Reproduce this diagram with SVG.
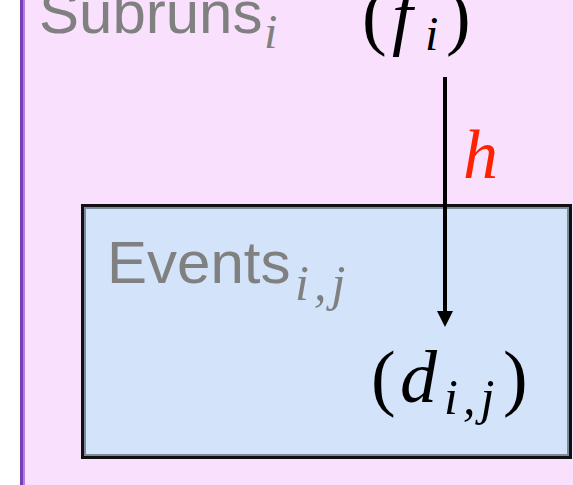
<svg xmlns="http://www.w3.org/2000/svg" width="573" height="485" viewBox="0 0 573 485">
<style>
.lbl{font-family:"Liberation Sans",Arial,sans-serif;fill:#808080}
.math{font-family:"Liberation Serif","Times New Roman",serif;fill:#000}
.it{font-style:italic}
</style>
<rect x="0" y="0" width="573" height="485" fill="#fff"/>
<g id="subruns">
<rect x="20" y="-10" width="563" height="505" fill="#F9E1FE"/>
<rect x="20" y="-10" width="3" height="505" fill="#7A3DB8"/>
<rect x="23" y="-10" width="2" height="505" fill="#B07FDA"/>
<text class="lbl" x="39" y="33" font-size="60">Subruns<tspan class="math it" style="fill:#808080" font-size="48" x="264" y="48">i</tspan></text>
<text class="math" y="41" font-size="74"><tspan x="362">(</tspan><tspan class="it" x="392">f</tspan><tspan class="it" font-size="48" x="425" y="50">i</tspan><tspan x="446" y="41">)</tspan></text>
</g>
<g id="events">
<rect x="82.5" y="205.5" width="488" height="252" fill="#D2E3FA" stroke="#111" stroke-width="3"/>
<rect x="85" y="208" width="483" height="247" fill="none" stroke="#7F8A99" stroke-width="2"/>
<text class="lbl" x="107" y="283" font-size="60">Events<tspan class="math it" style="fill:#808080" font-size="50" x="295" y="300" letter-spacing="5">i,j</tspan></text>
<text class="math" y="402" font-size="74"><tspan x="371">(</tspan><tspan class="it" x="400">d</tspan><tspan class="it" font-size="50" x="444" y="414" letter-spacing="5">i,j</tspan><tspan x="503" y="402">)</tspan></text>
</g>
<g id="connectors">
<line x1="445" y1="77" x2="445" y2="311" stroke="#000" stroke-width="4"/>
<path d="M437,311 L453,311 L445,327 z" fill="#000"/>
<text class="math it" x="463" y="178" font-size="70" style="fill:#FF2200">h</text>
</g>
</svg>
